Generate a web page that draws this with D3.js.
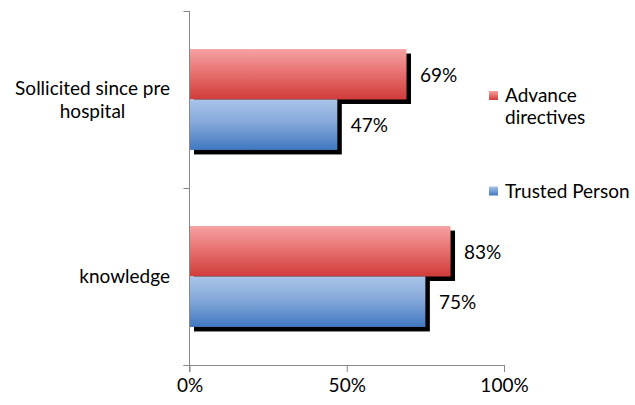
<!DOCTYPE html>
<html>
<head>
<meta charset="utf-8">
<script src="https://cdn.jsdelivr.net/npm/d3@7"></script>
<style>
  html, body { margin: 0; padding: 0; background: #fff; }
  svg { display: block; }
</style>
</head>
<body>
<svg id="chart" width="635" height="405"></svg>
<script>
// ---- data ----
const categories = ["Sollicited since pre|hospital", "knowledge"];
const seriesNames = ["Advance directives", "Trusted Person"];
const advanceDirectives = [69, 83];
const trustedPerson = [47, 75];
const xTicks = [0, 50, 100];

(function () {
const FONT = "Lato, 'Open Sans', sans-serif";
const svg = d3.select("#chart");

// fit font size so the longest category line matches the reference width
const probe = svg.append("text").attr("font-family", FONT).attr("font-size", 100).text("Sollicited since pre");
const probeW = probe.node().getComputedTextLength();
probe.remove();
const fs = Math.min(20, 155 / probeW * 100);

const pLeft = 189.5, pRight = 504, pTop = 11, pBottom = 365;

const x = d3.scaleLinear().domain([0, 100]).range([pLeft, pRight]);
const y = d3.scaleBand().domain(categories).range([pTop, pBottom]).paddingInner(0.43).paddingOuter(0.215);
const ySub = d3.scaleBand().domain(seriesNames).range([0, y.bandwidth()]);

const values = { "Advance directives": advanceDirectives, "Trusted Person": trustedPerson };

// gradients
const defs = svg.append("defs");
const grads = {
  "Advance directives": [["0%", "#f6a2a2"], ["45%", "#e87372"], ["100%", "#cf3c39"]],
  "Trusted Person": [["0%", "#a9c4e8"], ["45%", "#86a9da"], ["100%", "#4078c0"]]
};
seriesNames.forEach((s, i) => {
  const g = defs.append("linearGradient").attr("id", "g" + i)
    .attr("x1", 0).attr("y1", 0).attr("x2", 0).attr("y2", 1);
  grads[s].forEach(([o, c]) => g.append("stop").attr("offset", o).attr("stop-color", c));
});
seriesNames.forEach((s, i) => {
  const g = defs.append("linearGradient").attr("id", "lg" + i)
    .attr("x1", 0).attr("y1", 0).attr("x2", 0).attr("y2", 1);
  g.append("stop").attr("offset", "0%").attr("stop-color", grads[s][0][1]);
  g.append("stop").attr("offset", "100%").attr("stop-color", grads[s][2][1]);
});

const rows = [];
categories.forEach((c, ci) => seriesNames.forEach((s, si) => rows.push({ c, s, si, v: values[s][ci] })));

// shadows
const sh = 4.5;
svg.append("g").selectAll("rect").data(rows).join("rect")
  .attr("x", x(0) + sh)
  .attr("y", d => y(d.c) + ySub(d.s) + sh)
  .attr("width", d => x(d.v) - x(0))
  .attr("height", ySub.bandwidth())
  .attr("fill", "#000");

// bars
svg.append("g").selectAll("rect").data(rows).join("rect")
  .attr("x", x(0))
  .attr("y", d => y(d.c) + ySub(d.s))
  .attr("width", d => x(d.v) - x(0))
  .attr("height", ySub.bandwidth())
  .attr("fill", d => `url(#g${d.si})`);

// value labels
svg.append("g").selectAll("text").data(rows).join("text")
  .attr("x", d => x(d.v) + 13.5)
  .attr("y", d => y(d.c) + ySub(d.s) + ySub.bandwidth() / 2 + 1)
  .attr("dy", "0.35em")
  .attr("font-family", FONT).attr("font-size", fs).attr("fill", "#000")
  .text(d => d.v + "%");

// axes
const axisColor = "#888";
const xAxis = svg.append("g").attr("transform", `translate(0,${pBottom})`)
  .call(d3.axisBottom(x).tickValues(xTicks).tickFormat(d => d + "%").tickSize(7).tickSizeOuter(0).tickPadding(6));
xAxis.select(".domain").attr("stroke", axisColor).attr("d", `M${pLeft - 6},0.5H${pRight}`);
xAxis.selectAll(".tick line").attr("stroke", axisColor);
xAxis.selectAll(".tick text").attr("font-family", FONT).attr("font-size", fs).attr("fill", "#000");

// y axis line with category boundary ticks
const yAxis = svg.append("g");
yAxis.append("line").attr("x1", pLeft).attr("x2", pLeft).attr("y1", pTop).attr("y2", pBottom + 7).attr("stroke", axisColor);
const boundaries = [pTop, y(categories[1]) - y.step() * y.paddingInner() / 2, pBottom];
yAxis.selectAll(".bt").data(boundaries).join("line")
  .attr("x1", pLeft - 6).attr("x2", pLeft).attr("y1", d => Math.round(d) + 0.5).attr("y2", d => Math.round(d) + 0.5)
  .attr("stroke", axisColor);

// category labels (right-aligned block, lines centred within it)
const labelRight = 170;
const lineH = fs * 1.2;
categories.forEach(c => {
  const lines = c.split("|");
  const widths = lines.map(ln => {
    const p = svg.append("text").attr("font-family", FONT).attr("font-size", fs).text(ln);
    const w = p.node().getComputedTextLength();
    p.remove();
    return w;
  });
  const maxW = d3.max(widths);
  const cx = labelRight - maxW / 2;
  const cy = y(c) + y.bandwidth() / 2;
  const y0 = cy - (lines.length - 1) * lineH / 2;
  lines.forEach((ln, i) => {
    svg.append("text").attr("font-family", FONT).attr("font-size", fs).attr("fill", "#000")
      .attr("text-anchor", "middle").attr("x", cx).attr("y", y0 + i * lineH).attr("dy", "0.35em").text(ln);
  });
});

// legend
const legendItems = [
  { lines: ["Advance", "directives"], y: 95.5, i: 0 },
  { lines: ["Trusted Person"], y: 191, i: 1 }
];
const lg = svg.append("g");
legendItems.forEach(d => {
  lg.append("rect").attr("x", 489).attr("y", d.y - 4.5).attr("width", 9).attr("height", 9).attr("fill", `url(#lg${d.i})`);
  const t = lg.append("text").attr("font-family", FONT).attr("font-size", fs).attr("fill", "#000");
  d.lines.forEach((ln, k) => t.append("tspan").attr("x", 505).attr("y", d.y + k * 22).attr("dy", "0.35em").text(ln));
});
})();
</script>
</body>
</html>
